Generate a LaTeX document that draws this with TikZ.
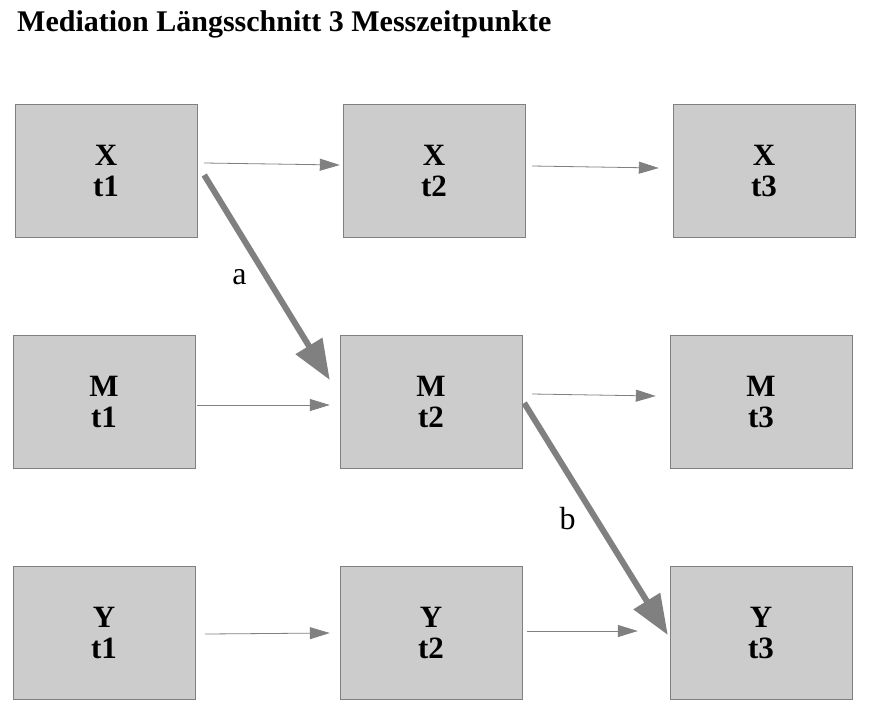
\documentclass[tikz,border=0pt]{standalone}
\usepackage{fontspec}
\setmainfont{Liberation Serif}
\usetikzlibrary{arrows.meta, positioning}
\definecolor{boxgray}{RGB}{204,204,204}
\definecolor{arrowgray}{RGB}{128,128,128}

\begin{document}
\begin{tikzpicture}[x=1pt, y=-1pt,
  every node/.style={align=center},
  varbox/.style={draw=arrowgray, fill=boxgray, minimum width=182pt, minimum height=133pt,
    font=\fontsize{31}{31}\selectfont\bfseries, inner sep=0pt},
  path thin/.style={draw=arrowgray, line width=0.8pt, -{Triangle[length=20pt, width=12pt]}},
  path thick/.style={draw=arrowgray, line width=6pt, -{Triangle[length=40pt, width=30pt]}}]

  \useasboundingbox (0,0) rectangle (882,718);

  % Title
  \node[anchor=west, inner sep=0pt, font=\fontsize{30}{32}\selectfont\bfseries] (title) at (17,24) {Mediation Längsschnitt 3 Messzeitpunkte};

  % Variables
  \node[varbox] (x1) at (106,171) {X\\t1};
  \node[varbox] (x2) at (434,171) {X\\t2};
  \node[varbox] (x3) at (764,171) {X\\t3};
  \node[varbox] (m1) at (104,402) {M\\t1};
  \node[varbox] (m2) at (431,402) {M\\t2};
  \node[varbox] (m3) at (761,402) {M\\t3};
  \node[varbox] (y1) at (104,633) {Y\\t1};
  \node[varbox] (y2) at (431,633) {Y\\t2};
  \node[varbox] (y3) at (761,633) {Y\\t3};

  % Stability paths
  \draw[path thin] ([shift={(7,-8)}]x1.east) -- ([shift={(-3,-6)}]x2.west);
  \draw[path thin] ([shift={(7,-5)}]x2.east) -- ([shift={(-14,-3)}]x3.west);
  \draw[path thin] ([shift={(2,3)}]m1.east) -- ([shift={(-10,3)}]m2.west);
  \draw[path thin] ([shift={(10,-8)}]m2.east) -- ([shift={(-14,-6)}]m3.west);
  \draw[path thin] ([shift={(10,1)}]y1.east) -- ([shift={(-10,0)}]y2.west);
  \draw[path thin] ([shift={(5,-2)}]y2.east) -- ([shift={(-32,-2)}]y3.west);

  % Mediation paths
  \draw[path thick] ([shift={(7,4)}]x1.east) -- node[pos=0.5, left=14pt, font=\fontsize{32}{34}\selectfont] (a) {a} ([shift={(-10,-22)}]m2.west);
  \draw[path thick] ([shift={(2,1)}]m2.east) -- node[pos=0.5, left=14pt, font=\fontsize{32}{34}\selectfont] (b) {b} ([shift={(-2,2)}]y3.west);

\end{tikzpicture}
\end{document}
